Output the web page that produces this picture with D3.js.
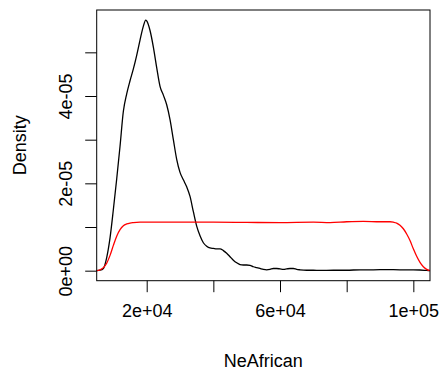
<!DOCTYPE html>
<html>
<head>
<meta charset="utf-8">
<script src="https://cdn.jsdelivr.net/npm/d3@7/dist/d3.min.js"></script>
<style>
  html, body { margin: 0; padding: 0; background: #fff; }
  svg { display: block; }
  text { font-family: "Liberation Sans", Arial, Helvetica, sans-serif; fill: #000; }
</style>
</head>
<body>
<svg id="chart" width="441" height="380"></svg>
<script>
// Evaluation grid for NeAfrican (density estimates are read on this grid)
const neAfrican = [
  5000, 6000, 7000, 8000, 9000, 10000, 11000, 12000, 13000, 14000,
  15000, 16000, 17000, 18000, 19000, 19700, 20000, 21000, 22000, 23000,
  24000, 25000, 26000, 27000, 28000, 29000, 30000, 31000, 32000, 33000,
  34000, 35000, 36000, 37000, 38000, 39000, 40000, 41000, 42000, 43000,
  44000, 45000, 46000, 47000, 48000, 49000, 50000, 51000, 52000, 53000,
  54000, 55000, 56000, 57000, 58000, 59000, 60000, 61000, 62000, 63000,
  64000, 65000, 66000, 68000, 70000, 72000, 76000, 80000, 84000, 88000,
  92000, 96000, 100000, 102000, 104000, 105000
];

// Posterior density (black), units of 1e-5
const posterior = [
  0.00, 0.01, 0.05, 0.30, 0.75, 1.40, 2.10, 2.85, 3.65, 4.05,
  4.35, 4.62, 4.93, 5.28, 5.60, 5.74, 5.72, 5.50, 5.12, 4.65,
  4.22, 4.02, 3.80, 3.46, 3.00, 2.55, 2.25, 2.08, 1.92, 1.70,
  1.35, 1.02, 0.80, 0.64, 0.56, 0.52, 0.51, 0.50, 0.50, 0.46,
  0.40, 0.32, 0.24, 0.18, 0.14, 0.13, 0.13, 0.12, 0.09, 0.07,
  0.05, 0.03, 0.02, 0.03, 0.05, 0.05, 0.04, 0.03, 0.04, 0.05,
  0.05, 0.03, 0.02, 0.01, 0.01, 0.005, 0.01, 0.01, 0.02, 0.02,
  0.025, 0.02, 0.02, 0.015, 0.005, 0.00
];

// Prior density (red) on its own grid, units of 1e-5
const priorX = [
  5000, 6000, 7000, 8000, 9000, 10000, 11000, 12000, 13000, 14000,
  15000, 16000, 18000, 20000, 30000, 40000, 50000, 60000, 70000, 75000,
  80000, 85000, 90000, 93000, 94000, 95000, 96000, 97000, 98000, 99000,
  100000, 101000, 102000, 103000, 104000, 105000
];
const prior = [
  0.00, 0.02, 0.07, 0.17, 0.35, 0.58, 0.79, 0.94, 1.03, 1.07,
  1.09, 1.10, 1.11, 1.11, 1.11, 1.11, 1.105, 1.10, 1.11, 1.10,
  1.12, 1.13, 1.12, 1.12, 1.11, 1.09, 1.04, 0.96, 0.84, 0.69,
  0.50, 0.33, 0.19, 0.09, 0.03, 0.00
];

// Axis ticks and their labels (empty label = tick only)
const xTicks = [20000, 40000, 60000, 80000, 100000];
const xTickLabels = ["2e+04", "", "6e+04", "", "1e+05"];
const yTicks = [0, 1e-5, 2e-5, 3e-5, 4e-5, 5e-5];
const yTickLabels = ["0e+00", "", "2e-05", "", "4e-05", ""];

const xTitle = "NeAfrican";
const yTitle = "Density";

const W = 441, H = 380;
const margin = { top: 10, right: 11, bottom: 99.3, left: 96.7 };
const plotW = W - margin.left - margin.right;
const plotH = H - margin.top - margin.bottom;
const tickLen = 11.5;
const fontSize = 18;

const svg = d3.select("#chart");
const g = svg.append("g").attr("transform", `translate(${margin.left},${margin.top})`);

const x = d3.scaleLinear()
  .domain(d3.extent(neAfrican))
  .range([0, plotW]);

// y range padded by 4% on both sides of [0, max]
const yMax = d3.max(posterior.concat(prior)) * 1e-5;
const pad = 0.04 * yMax;
const y = d3.scaleLinear()
  .domain([-pad, yMax + pad])
  .range([plotH, 0]);

const line = d3.line()
  .x(d => x(d[0]))
  .y(d => y(d[1] * 1e-5))
  .curve(d3.curveMonotoneX);

g.append("path")
  .datum(neAfrican.map((v, i) => [v, posterior[i]]))
  .attr("d", line)
  .attr("fill", "none")
  .attr("stroke", "#000")
  .attr("stroke-width", 1.3);

g.append("path")
  .datum(priorX.map((v, i) => [v, prior[i]]))
  .attr("d", line)
  .attr("fill", "none")
  .attr("stroke", "#ff0000")
  .attr("stroke-width", 1.3);

// Frame around the plotting region
g.append("rect")
  .attr("x", 0).attr("y", 0)
  .attr("width", plotW).attr("height", plotH)
  .attr("fill", "none")
  .attr("stroke", "#000")
  .attr("stroke-width", 1);

// x axis
const xAxis = d3.axisBottom(x)
  .tickValues(xTicks)
  .tickSize(tickLen)
  .tickSizeOuter(0)
  .tickPadding(12)
  .tickFormat((d, i) => xTickLabels[i]);
const xa = g.append("g").attr("transform", `translate(0,${plotH})`).call(xAxis);
xa.select(".domain").remove();
xa.selectAll(".tick line").attr("stroke", "#000");
xa.selectAll(".tick text")
  .attr("font-size", fontSize)
  .attr("font-family", "Liberation Sans, Arial, sans-serif")
  .attr("fill", "#000");

// y axis, labels rotated to read upward
const yAxis = d3.axisLeft(y)
  .tickValues(yTicks)
  .tickSize(tickLen)
  .tickSizeOuter(0)
  .tickFormat((d, i) => yTickLabels[i]);
const ya = g.append("g").call(yAxis);
ya.select(".domain").remove();
ya.selectAll(".tick line").attr("stroke", "#000");
ya.selectAll(".tick text")
  .attr("x", null).attr("dy", null)
  .attr("transform", "translate(-25,0) rotate(-90)")
  .attr("text-anchor", "middle")
  .attr("font-size", fontSize)
  .attr("font-family", "Liberation Sans, Arial, sans-serif")
  .attr("fill", "#000");

// Axis titles
svg.append("text")
  .attr("x", margin.left + plotW / 2)
  .attr("y", 367)
  .attr("text-anchor", "middle")
  .attr("font-size", fontSize)
  .text(xTitle);

svg.append("text")
  .attr("transform", `translate(26,${margin.top + plotH / 2}) rotate(-90)`)
  .attr("text-anchor", "middle")
  .attr("font-size", fontSize)
  .text(yTitle);
</script>
</body>
</html>
